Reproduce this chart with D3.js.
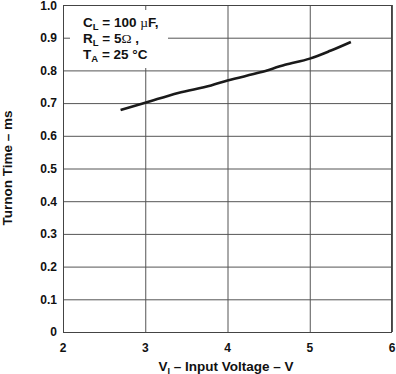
<!DOCTYPE html>
<html>
<head>
<meta charset="utf-8">
<script src="https://cdn.jsdelivr.net/npm/d3@7.9.0/dist/d3.min.js"></script>
<style>
  html, body { margin: 0; padding: 0; background: #fff; }
  svg { display: block; font-family: 'Liberation Sans', Arial, sans-serif; font-weight: bold; }
</style>
</head>
<body>
<div id="chart"></div>
<script>
const voltage = [2.7, 3.0, 3.4, 3.8, 4.0, 4.4, 4.7, 5.0, 5.25, 5.5];
const turnonTime = [0.679, 0.701, 0.731, 0.754, 0.769, 0.794, 0.817, 0.836, 0.860, 0.887];
const xTicks = [2, 3, 4, 5, 6];
const yTicks = [0, 0.1, 0.2, 0.3, 0.4, 0.5, 0.6, 0.7, 0.8, 0.9, 1.0];
const legendLines = [
  { main: 'C', sub: 'L', rest: ' = 100 ', sym: 'µ', tail: 'F,' },
  { main: 'R', sub: 'L', rest: ' = 5', sym: 'Ω', tail: ' ,' },
  { main: 'T', sub: 'A', rest: ' = 25 °C', sym: '', tail: '' },
];

const width = 396;
const height = 374;
const plot = { left: 63, right: 392, top: 5, bottom: 332 };

const data = voltage.map((v, i) => ({ v, t: turnonTime[i] }));

const xScale = d3.scaleLinear().domain([2, 6]).range([plot.left, plot.right]);
const yScale = d3.scaleLinear().domain([0, 1]).range([plot.bottom, plot.top]);

const svg = d3.select('#chart').append('svg')
  .attr('width', width)
  .attr('height', height);

// grid
svg.append('g')
  .attr('class', 'grid-y')
  .attr('transform', `translate(${plot.left},0)`)
  .call(d3.axisLeft(yScale).tickValues(yTicks).tickFormat('').tickSize(-(plot.right - plot.left)))
  .call((g) => g.select('.domain').remove())
  .call((g) => g.selectAll('line').attr('stroke', '#555').attr('stroke-width', 1));

svg.append('g')
  .attr('class', 'grid-x')
  .attr('transform', `translate(0,${plot.bottom})`)
  .call(d3.axisBottom(xScale).tickValues(xTicks).tickFormat('').tickSize(-(plot.bottom - plot.top)))
  .call((g) => g.select('.domain').remove())
  .call((g) => g.selectAll('line').attr('stroke', '#555').attr('stroke-width', 1));

// legend box covers grid
svg.append('rect')
  .attr('x', 70)
  .attr('y', 10)
  .attr('width', 98)
  .attr('height', 58)
  .attr('fill', '#fff');

// frame
svg.append('rect')
  .attr('x', plot.left + 0.5)
  .attr('y', plot.top + 0.5)
  .attr('width', plot.right - plot.left - 1)
  .attr('height', plot.bottom - plot.top)
  .attr('fill', 'none')
  .attr('stroke', '#444')
  .attr('stroke-width', 1);

// tick labels (top one nudged so it stays inside the window)
svg.append('g')
  .selectAll('text')
  .data(yTicks)
  .join('text')
  .attr('x', 57)
  .attr('y', (d) => Math.max(yScale(d), 6))
  .attr('dy', '0.36em')
  .attr('text-anchor', 'end')
  .attr('font-size', 12)
  .attr('fill', '#111')
  .text((d) => (d === 0 ? '0' : d.toFixed(1)));

svg.append('g')
  .selectAll('text')
  .data(xTicks)
  .join('text')
  .attr('x', (d) => xScale(d))
  .attr('y', 352)
  .attr('text-anchor', 'middle')
  .attr('font-size', 12)
  .attr('fill', '#111')
  .text((d) => d);

// axis labels
const xl = svg.append('text')
  .attr('x', 226)
  .attr('y', 370.5)
  .attr('text-anchor', 'middle')
  .attr('font-size', 13.5)
  .attr('fill', '#111');
xl.append('tspan').text('V');
xl.append('tspan').attr('font-size', 9).attr('dy', 3).text('I');
xl.append('tspan').attr('dy', -3).text(' – Input Voltage – V');

svg.append('text')
  .attr('transform', 'translate(12,168) rotate(-90)')
  .attr('text-anchor', 'middle')
  .attr('font-size', 13.5)
  .attr('fill', '#111')
  .text('Turnon Time – ms');

// legend text
const legend = svg.append('g');
legendLines.forEach((l, i) => {
  const t = legend.append('text')
    .attr('x', 83)
    .attr('y', 27 + i * 16)
    .attr('font-size', 13.5)
    .attr('fill', '#111');
  t.append('tspan').text(l.main);
  t.append('tspan').attr('font-size', 9.5).attr('dy', 3).text(l.sub);
  t.append('tspan').attr('dy', -3).text(l.rest);
  if (l.sym) {
    t.append('tspan')
      .attr('font-family', "'Liberation Serif', 'DejaVu Serif', serif")
      .attr('font-weight', 'normal')
      .text(l.sym);
  }
  if (l.tail) t.append('tspan').text(l.tail);
});

// curve
const line = d3.line()
  .x((d) => xScale(d.v))
  .y((d) => yScale(d.t))
  .curve(d3.curveMonotoneX);

svg.append('path')
  .datum(data)
  .attr('d', line)
  .attr('fill', 'none')
  .attr('stroke', '#1a1a1a')
  .attr('stroke-width', 2.6)
  .attr('stroke-linecap', 'butt');
</script>
</body>
</html>
